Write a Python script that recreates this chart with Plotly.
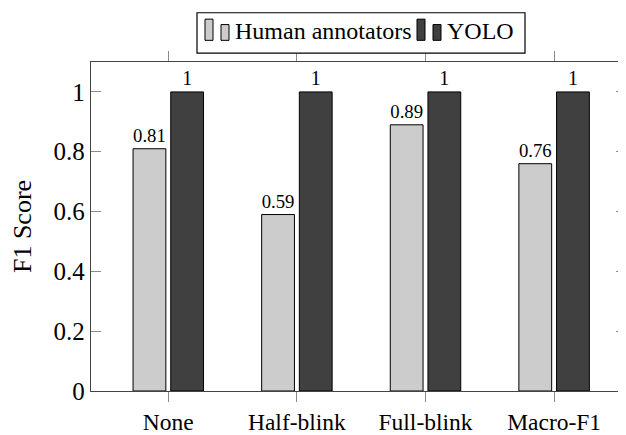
import plotly.graph_objects as go

# --------------------------------------------
# Data
# --------------------------------------------
categories = ["None", "Half-blink", "Full-blink", "Macro-F1"]
series_names = ["Human annotators", "YOLO"]
human_f1 = [0.81, 0.59, 0.89, 0.76]
yolo_f1 = [1, 1, 1, 1]
y_ticks = [0, 0.2, 0.4, 0.6, 0.8, 1]
y_tick_text = ["0", "0.2", "0.4", "0.6", "0.8", "1"]

light = "#cccccc"
dark = "#404040"
serif = "Liberation Serif"
tick_grey = "#8a8a8a"
axis_grey = "#444444"

# the page body has an 8px margin, so the figure is made smaller by that much
OFF = 8
W, H = 626 - OFF, 435 - OFF
# plot area in page pixels (used to place the hand-made legend)
L, R, T, B = 91, 626, 62, 396
x_range = [-0.601, 3.559]


def px_x(p):
    return (p - L) / (R - L)


def px_y(p):
    return (B - p) / (B - T)


x_pos = list(range(len(categories)))

fig = go.Figure()
fig.add_trace(go.Bar(
    x=x_pos, y=human_f1, name=series_names[0],
    width=0.255, offset=-0.274,
    marker=dict(color=light, line=dict(color="black", width=1)),
    texttemplate="%{y}", textposition="outside",
    textfont=dict(family=serif, size=20, color="black"),
    cliponaxis=False, showlegend=False,
))
fig.add_trace(go.Bar(
    x=x_pos, y=yolo_f1, name=series_names[1],
    width=0.255, offset=0.019,
    marker=dict(color=dark, line=dict(color="black", width=1)),
    texttemplate="%{y}", textposition="outside",
    textfont=dict(family=serif, size=20, color="black"),
    cliponaxis=False, showlegend=False,
))
# invisible trace so the top / right tick axes get drawn
fig.add_trace(go.Scatter(x=[0], y=[0], xaxis="x2", yaxis="y2", mode="markers",
                         marker=dict(opacity=0), hoverinfo="skip", showlegend=False))

fig.update_layout(
    width=W, height=H,
    margin=dict(l=L - OFF, r=0, t=T - OFF, b=435 - B),
    paper_bgcolor="white", plot_bgcolor="white",
    font=dict(family=serif, color="black"),
    barmode="group",
    xaxis=dict(
        range=x_range, tickvals=x_pos, ticktext=categories,
        ticks="outside", ticklen=10, tickcolor=tick_grey, tickwidth=1,
        showline=True, linecolor=axis_grey, linewidth=1.3,
        showgrid=False, zeroline=False,
        tickfont=dict(family=serif, size=23.5),
    ),
    yaxis=dict(
        range=[0, 1.1], tickvals=y_ticks, ticktext=y_tick_text,
        ticks="inside", ticklen=10, tickcolor=tick_grey, tickwidth=1,
        showline=True, linecolor=axis_grey, linewidth=1.3,
        showgrid=False, zeroline=False,
        tickfont=dict(family=serif, size=25),
        title=dict(text="F1 Score", font=dict(family=serif, size=26), standoff=16),
    ),
    xaxis2=dict(
        overlaying="x", side="top", anchor="y2",
        range=x_range, tickvals=x_pos, showticklabels=False,
        ticks="outside", ticklen=10, tickcolor=tick_grey, tickwidth=1,
        showline=True, linecolor=axis_grey, linewidth=1.3,
        showgrid=False, zeroline=False,
    ),
    yaxis2=dict(
        overlaying="y", side="right", anchor="x2",
        range=[0, 1.1], tickvals=y_ticks, showticklabels=False,
        ticks="inside", ticklen=10, tickcolor=tick_grey, tickwidth=1,
        showline=False, showgrid=False, zeroline=False,
    ),
)

# legend drawn by hand: pgfplots style box with two small bars per entry
fig.add_shape(type="rect", xref="paper", yref="paper",
              x0=px_x(197), x1=px_x(525), y0=px_y(53), y1=px_y(12),
              line=dict(color="black", width=1.2), fillcolor="white", layer="above")
legend_items = [(series_names[0], light, 205, 233), (series_names[1], dark, 417, 445)]
for name, color, x_icon, x_text in legend_items:
    for dx, top in [(0, 18.5), (16, 24)]:
        fig.add_shape(type="rect", xref="paper", yref="paper",
                      x0=px_x(x_icon + dx), x1=px_x(x_icon + dx + 8),
                      y0=px_y(40), y1=px_y(top),
                      line=dict(color="black", width=1), fillcolor=color, layer="above")
    fig.add_annotation(text=name, xref="paper", yref="paper",
                       x=px_x(x_text), y=px_y(31), xanchor="left", yanchor="middle",
                       showarrow=False, font=dict(family=serif, size=24, color="black"))

fig.write_html("out.html")
